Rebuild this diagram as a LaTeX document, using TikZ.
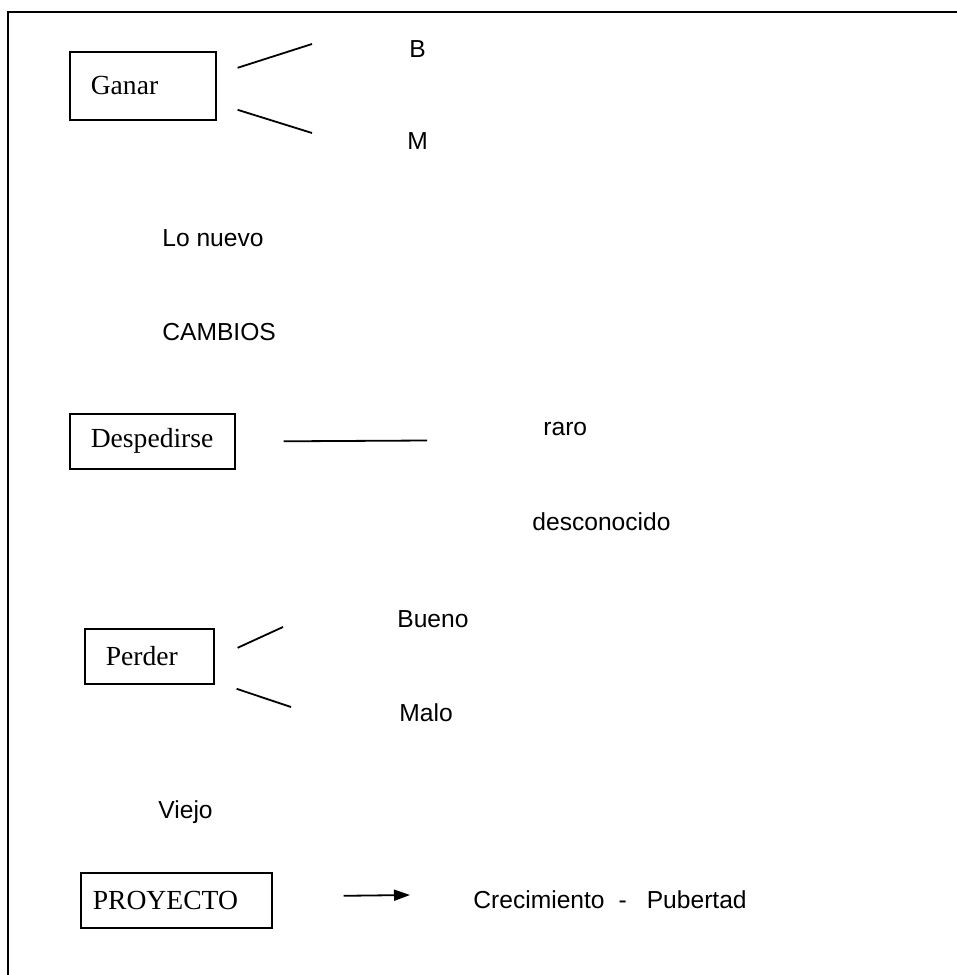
\documentclass[tikz,border=0pt]{standalone}
\usepackage{fontspec}
\setmainfont{Liberation Serif}
\newfontfamily\arialfont{Liberation Sans}
\usetikzlibrary{arrows.meta,positioning}

\begin{document}
\begin{tikzpicture}[x=0.5pt,y=-0.5pt,
caja/.style={draw,line width=0.8pt,align=left,inner xsep=10.5pt,minimum height=27.5pt,anchor=north west,font=\fontsize{13.8}{16}\selectfont},
etiq/.style={anchor=base west,inner sep=0pt,font=\arialfont\fontsize{12.3}{14}\selectfont},
rama/.style={line width=0.9pt}]
\useasboundingbox (0,0) rectangle (957,975);
\draw[line width=0.8pt] (957,12) -- (8,12) -- (8,975);
% cajas
\node[caja,text width=52pt,minimum height=34pt] (Gan) at (69,51) {Ganar};
\node[caja,text width=61.5pt] (Desp) at (69,413) {Despedirse};
\node[caja,text width=43.5pt] (Perd) at (84,628) {Perder};
\node[caja,text width=83.5pt,inner xsep=6pt] (Proy) at (80,872) {PROYECTO};
% textos
\node[etiq] (B) at (409,57) {B};
\node[etiq] (M) at (407,149) {M};
\node[etiq] (nuevo) at (162,246) {Lo nuevo};
\node[etiq] (camb) at (162,340) {CAMBIOS};
\node[etiq] (raro) at (543,435) {raro};
\node[etiq] (desc) at (532,530) {desconocido};
\node[etiq] (bueno) at (397,627) {Bueno};
\node[etiq] (malo) at (399,721) {Malo};
\node[etiq] (viejo) at (158,818) {Viejo};
\node[etiq] (crec) at (473,908) {Crecimiento\hspace{7pt}-\hspace{10pt}Pubertad};
% extremos de las ramas
\coordinate (GanB) at (312,44);
\coordinate (GanM) at (312,133);
\coordinate (DespR) at (427,440.5);
\coordinate (PerdB) at (283,627);
\coordinate (PerdM) at (291,707);
\coordinate (ProyC) at (410,895);
\draw[rama] ([xshift=10.5pt,yshift=9pt]Gan.east) -- (GanB);
\draw[rama] ([xshift=10.5pt,yshift=-12pt]Gan.east) -- (GanM);
\draw[rama] ([xshift=24pt]Desp.east) -- (DespR);
\draw[rama] ([xshift=11.5pt,yshift=4.25pt]Perd.east) -- (PerdB);
\draw[rama] ([xshift=11pt,yshift=-16.25pt]Perd.east) -- (PerdM);
\draw[rama,-{Triangle[length=8pt,width=5.5pt]}] ([xshift=35.5pt,yshift=2.25pt]Proy.east) -- (ProyC);
\end{tikzpicture}
\end{document}
